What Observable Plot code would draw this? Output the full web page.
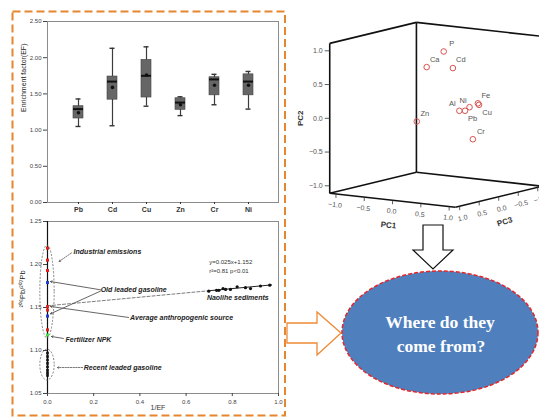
<!DOCTYPE html>
<html><head><meta charset="utf-8">
<script src="https://cdn.jsdelivr.net/npm/d3@7"></script>
<script src="https://cdn.jsdelivr.net/npm/@observablehq/plot@0.6"></script>
<style>
body{margin:0;background:#fff;}
#wrap{position:relative;width:539px;height:419px;overflow:hidden;background:#fff;font-family:"Liberation Sans",Arial,sans-serif;}
#wrap > svg{position:absolute;margin:0;}
</style></head><body><div id="wrap"></div>
<script>
// ---------- Panel A: enrichment factor box plots ----------
const elements = ["Pb","Cd","Cu","Zn","Cr","Ni"];
const efMin    = [1.05,1.06,1.33,1.20,1.35,1.29];
const efQ1     = [1.16,1.42,1.45,1.28,1.48,1.48];
const efMedian = [1.29,1.67,1.75,1.38,1.70,1.67];
const efQ3     = [1.33,1.74,1.97,1.44,1.73,1.77];
const efMax    = [1.43,2.13,2.15,1.46,1.77,1.81];
const efMean   = [1.24,1.59,1.76,1.35,1.62,1.62];
const efTicks  = [0,0.5,1,1.5,2,2.5];

// ---------- Panel B: 206Pb/207Pb vs 1/EF ----------
const industrialEmissions  = [1.219,1.205,1.193,1.151,1.147,1.124];
const oldLeadedGasoline    = [1.179,1.140];
const fertilizerNPK        = [1.118];
const recentLeadedGasoline = [1.097,1.093,1.089,1.085,1.081,1.077,1.074,1.071];
const naoliheInvEF = [0.698,0.732,0.742,0.760,0.771,0.792,0.821,0.857,0.879,0.922,0.962];
const naoliheRatio = [1.169,1.170,1.170,1.172,1.171,1.171,1.174,1.173,1.172,1.175,1.176];
const fitSlope = 0.025, fitIntercept = 1.152, fitR2 = 0.81;
const fitFrom = [0, 0.70], fitTo = [0.70, 0.97];
const ratioTicks = [1.05,1.10,1.15,1.20,1.25];
const invEFTicks = [0,0.2,0.4,0.6,0.8,1.0];
const groupTop    = [1.222,1.101];
const groupBottom = [1.114,1.065];
const groupHalfWidth = 0.031;
const notes  = ["Industrial emissions","Old leaded gasoline","Naolihe sediments","Average anthropogenic source","Fertilizer NPK","Recent leaded gasoline"];
const noteX  = [0.113,0.230,0.690,0.357,0.078,0.157];
const noteY  = [1.2150,1.1710,1.1616,1.1384,1.1128,1.0802];
const leaderX1 = [0.104,0.229,0.229,0.351,0.069,0.152];
const leaderY1 = [1.2135,1.1706,1.1690,1.1384,1.1140,1.0802];
const leaderX2 = [0.050,0.013,0.013,0.013,0.017,0.043];
const leaderY2 = [1.2035,1.1802,1.1427,1.1512,1.1163,1.0802];
const leaderDashed = [true,false,false,false,false,true];

// ---------- Panel C: PCA loadings (3D) ----------
const pcaVars = ["P","Ca","Cd","Zn","Al","Ni","Pb","Fe","Cu","Cr"];
const pc1 = [0.00,-0.37,0.30,-0.20,0.76,0.86,0.87,0.88,0.90,0.86];
const pc2 = [0.91, 0.63,0.72,-0.09,0.20,0.21,0.25,0.28,0.26,-0.24];
const pc3 = [-0.20,-0.30,0.00,0.20,0.50,0.50,0.40,0.20,0.20,0.30];
const pcaLabelSide = ["ne","ne","ne","ne","nw","n","s","ne","se","ne"];
const pcTicks = [-1,-0.5,0,0.5,1];
const pcExtent = 1.11;

const wrap = document.getElementById("wrap");
const FONT = "Liberation Sans, Arial, sans-serif";
function place(svg, left, top){ svg.style.position="absolute"; svg.style.left=left+"px"; svg.style.top=top+"px"; svg.style.maxWidth="none"; wrap.appendChild(svg); }

// ===== Panel A =====
const efData = elements.map((el,i)=>({el,min:efMin[i],q1:efQ1[i],med:efMedian[i],q3:efQ3[i],max:efMax[i],mean:efMean[i]}));
const boxPlot = Plot.plot({
  width:290, height:218, marginLeft:47, marginRight:12, marginTop:21, marginBottom:16,
  style:{background:"transparent", fontFamily:FONT, fontSize:"6px", color:"#444", overflow:"visible"},
  x:{type:"band", domain:elements, paddingInner:0.711, paddingOuter:0.694, label:null},
  y:{domain:[0,2.5], label:null},
  marks:[
    Plot.frame({stroke:"#8c8c8c"}),
    Plot.axisY({ticks:efTicks, tickFormat:d3.format(".2f"), tickSize:4, tickPadding:2, label:null, color:"#444", fontSize:6}),
    Plot.axisX({tickSize:2, tickPadding:3, label:null, color:"#333", fontSize:7, fontWeight:"bold"}),
    Plot.ruleX(efData,{x:"el", y1:"min", y2:"max", stroke:"#3c3c3c", strokeWidth:1.2}),
    Plot.tickY(efData,{x:"el", y:"min", stroke:"#333", strokeWidth:1.4, insetLeft:2.5, insetRight:2.5}),
    Plot.tickY(efData,{x:"el", y:"max", stroke:"#333", strokeWidth:1.4, insetLeft:2.5, insetRight:2.5}),
    Plot.barY(efData,{x:"el", y1:"q1", y2:"q3", fill:"#666", stroke:"#444", strokeWidth:0.6}),
    Plot.tickY(efData,{x:"el", y:"med", stroke:"#111", strokeWidth:2}),
    Plot.dot(efData,{x:"el", y:"mean", r:1.8, fill:"#111", stroke:"none"}),
    Plot.text(["Enrichment factor(EF)"],{text:d=>d, frameAnchor:"left", dx:-24, rotate:-90, fontSize:7, fill:"#222"})
  ]
});
place(boxPlot, 0, 0);

// ===== Panel B =====
const pts = (arr,g)=>arr.map(v=>({x:0,y:v,g}));
const ptData = [...pts(industrialEmissions,"ind"),...pts(oldLeadedGasoline,"old"),...pts(fertilizerNPK,"fert")];
const ptColor = {ind:"#e3201c", old:"#1d3fd8", fert:"#3fe03f"};
const naolihe = naoliheInvEF.map((x,i)=>({x,y:naoliheRatio[i]}));
const fitLine = (a,b)=>[a,b].map(x=>({x,y:fitSlope*x+fitIntercept}));
const noteData = notes.map((t,i)=>({t,x:noteX[i],y:noteY[i]}));
const leaders = leaderX1.map((x1,i)=>({x1,y1:leaderY1[i],x2:leaderX2[i],y2:leaderY2[i],d:leaderDashed[i]}));
const scatter = Plot.plot({
  width:290, height:204, marginLeft:47, marginRight:12, marginTop:6, marginBottom:26,
  style:{background:"transparent", fontFamily:FONT, fontSize:"6px", color:"#444", overflow:"visible"},
  x:{domain:[0,1], label:null},
  y:{domain:[1.05,1.25], label:null},
  marks:[
    Plot.frame({stroke:"#8c8c8c"}),
    Plot.axisY({ticks:ratioTicks, tickFormat:d3.format(".2f"), tickSize:4, tickPadding:2, label:null, color:"#444", fontSize:6}),
    Plot.axisX({ticks:invEFTicks, tickFormat:d3.format(".1f"), tickSize:3, tickPadding:3, label:null, color:"#444", fontSize:6}),
    Plot.ruleX([0],{stroke:"#111", strokeWidth:1.2}),
    Plot.line(fitLine(fitFrom[0],fitFrom[1]),{x:"x", y:"y", stroke:"#444", strokeWidth:0.7, strokeDasharray:"3,2"}),
    Plot.line(fitLine(fitTo[0],fitTo[1]),{x:"x", y:"y", stroke:"#222", strokeWidth:1}),
    (index,{x,y})=>{
      const g = d3.create("svg:g").attr("fill","none").attr("stroke","#666").attr("stroke-width",0.8).attr("stroke-dasharray","2,1.5");
      groupTop.forEach((t,i)=>{
        g.append("ellipse").attr("cx",x(0)).attr("cy",(y(t)+y(groupBottom[i]))/2)
          .attr("rx",Math.abs(x(groupHalfWidth)-x(0))).attr("ry",Math.abs(y(groupBottom[i])-y(t))/2);
      });
      return g.node();
    },
    Plot.arrow(leaders.filter(d=>!d.d),{x1:"x1",y1:"y1",x2:"x2",y2:"y2", stroke:"#555", strokeWidth:0.9, headLength:3}),
    Plot.arrow(leaders.filter(d=>d.d),{x1:"x1",y1:"y1",x2:"x2",y2:"y2", stroke:"#555", strokeWidth:0.8, headLength:3, strokeDasharray:"1.5,1.2"}),
    Plot.dot(ptData,{x:"x", y:"y", symbol:"square", r:1.7, fill:d=>ptColor[d.g], stroke:"none"}),
    Plot.dot(pts(recentLeadedGasoline,"rec"),{x:"x", y:"y", symbol:"square", r:1.5, fill:"#111", stroke:"none"}),
    Plot.dot(naolihe,{x:"x", y:"y", r:1.6, fill:"#111", stroke:"none"}),
    Plot.text(noteData,{x:"x", y:"y", text:"t", textAnchor:"start", fontSize:7, fontWeight:"bold", fontStyle:"italic", fill:"#222"}),
    Plot.text([`y=${fitSlope}x+${fitIntercept}`, `r²=${fitR2} p<0.01`],{x:()=>0.70, y:(d,i)=>[1.2023,1.1919][i], text:d=>d, textAnchor:"start", fontSize:6, fill:"#333"}),
    Plot.text(["1/EF"],{text:d=>d, frameAnchor:"bottom", dy:16, dx:-5, fontSize:7, fill:"#333"}),
    Plot.text(["²⁰⁶Pb/²⁰⁷Pb"],{text:d=>d, frameAnchor:"left", dx:-25, rotate:-90, fontSize:7.5, fill:"#222"})
  ]
});
place(scatter, 0, 215);

// ===== Panel C =====
const view = {ox:435.4, oy:114.3, ux:56.6, uy:6.3, vy:-67.5, wx:-39.05, wy:9.46};
const proj = (a,b,c)=>[view.ox+view.ux*a+view.wx*c, view.oy+view.uy*a+view.vy*b+view.wy*c];
const R = pcExtent;
const cubeEdges = [
  [[-R,-R,R],[-R,R,R]], [[-R,R,R],[-R,R,-R]], [[-R,-R,R],[-R,-R,-R]],
  [[-R,-R,-R],[-R,R,-R]], [[-R,R,-R],[R,R,-R]], [[-R,-R,-R],[R,-R,-R]], [[R,-R,-R],[R,R,-R]],
  [[-R,-R,R],[R,-R,R]], [[R,-R,R],[R,-R,-R]]
].map(([p,q])=>{const [x1,y1]=proj(...p),[x2,y2]=proj(...q);return {x1,y1,x2,y2};});
const pcaData = pcaVars.map((name,i)=>{const [px,py]=proj(pc1[i],pc2[i],pc3[i]);return {name,px,py,side:pcaLabelSide[i]};});
const sideOffsets = {ne:[8,-8], nw:[-7,-7], n:[-2,-10], s:[3,11], se:[8,8]};
const pc2T = pcTicks.map(t=>{const [x,y]=proj(-R,t,R);return {t,x,y};});
const pc1T = pcTicks.map(t=>{const [x,y]=proj(t,-R,R);return {t,x,y};});
const pc3T = pcTicks.map(t=>{const [x,y]=proj(R,-R,t);return {t,x,y};});
const f1 = d3.format(".1f");
const [t1x,t1y] = proj(0,-R,R), [t3x,t3y] = proj(R,-R,0), [t2x,t2y] = proj(-R,0,R);
const pca = Plot.plot({
  width:249, height:240, margin:0,
  style:{background:"transparent", fontFamily:FONT, fontSize:"7px", color:"#444", overflow:"visible"},
  x:{domain:[290,539], range:[0,249], axis:null},
  y:{domain:[0,240], range:[0,240], axis:null},
  marks:[
    Plot.link(cubeEdges,{x1:"x1",y1:"y1",x2:"x2",y2:"y2", stroke:"#111", strokeWidth:1.6}),
    Plot.link(pc2T,{x1:"x", y1:"y", x2:d=>d.x-5, y2:"y", stroke:"#333", strokeWidth:0.8}),
    Plot.link(pc1T,{x1:"x", y1:"y", x2:"x", y2:d=>d.y+4, stroke:"#333", strokeWidth:0.8}),
    Plot.link(pc3T,{x1:"x", y1:"y", x2:"x", y2:d=>d.y+4, stroke:"#333", strokeWidth:0.8}),
    Plot.text(pc2T,{x:"x", y:"y", text:d=>f1(d.t), dx:-7, textAnchor:"end", fontSize:7, fill:"#555"}),
    Plot.text(pc1T,{x:"x", y:"y", text:d=>f1(d.t), dx:-1, dy:11, rotate:7, fontSize:7, fill:"#555"}),
    Plot.text(pc3T,{x:"x", y:"y", text:d=>f1(d.t), dx:3, dy:12, rotate:-14, fontSize:7, fill:"#555"}),
    Plot.text(["PC1"],{x:()=>t1x, y:()=>t1y, text:d=>d, dx:-4, dy:25, rotate:6, fontSize:8, fontWeight:"bold", fill:"#333"}),
    Plot.text(["PC3"],{x:()=>t3x, y:()=>t3y, text:d=>d, dx:6, dy:25, rotate:-18, fontSize:8, fontWeight:"bold", fill:"#333"}),
    Plot.text(["PC2"],{x:()=>t2x, y:()=>t2y, text:d=>d, dx:-29, rotate:-90, fontSize:8, fontWeight:"bold", fill:"#333"}),
    Plot.dot(pcaData,{x:"px", y:"py", r:2.8, stroke:"#d9534f", strokeWidth:1, fill:"none"}),
    ...Object.entries(sideOffsets).map(([side,[dx,dy]])=>Plot.text(pcaData.filter(d=>d.side===side),{x:"px", y:"py", text:"name", dx, dy, fontSize:7.5, fill:"#555"}))
  ]
});
place(pca, 290, 0);

// ===== Overlay: frame, arrows, question bubble =====
const ov = d3.create("svg").attr("width",539).attr("height",419);
ov.append("rect").attr("x",12.5).attr("y",11.5).attr("width",272.5).attr("height",404)
  .attr("fill","none").attr("stroke","#e6862f").attr("stroke-width",2).attr("stroke-dasharray","8,4");
ov.append("polygon").attr("points","423,225 443,225 443,250 453,250 433,269 413,250 423,250")
  .attr("fill","#fff").attr("stroke","#111").attr("stroke-width",1.2);
ov.append("polygon").attr("points","287,323 317,323 317,312 341,333 317,355 317,343 287,343")
  .attr("fill","#fff").attr("stroke","#ee8a35").attr("stroke-width",1.3);
ov.append("ellipse").attr("cx",440).attr("cy",332.5).attr("rx",98).attr("ry",61.5)
  .attr("fill","#4f7fbd").attr("stroke","#e3262b").attr("stroke-width",1.5).attr("stroke-dasharray","4,2");
const q = ov.append("text").attr("text-anchor","middle").attr("fill","#fff")
  .attr("font-family","Liberation Serif, Times New Roman, serif").attr("font-weight","bold").attr("font-size",17.5);
q.append("tspan").attr("x",440).attr("y",328).text("Where do they");
q.append("tspan").attr("x",441).attr("y",352).text("come from?");
place(ov.node(), 0, 0);
</script></body></html>
